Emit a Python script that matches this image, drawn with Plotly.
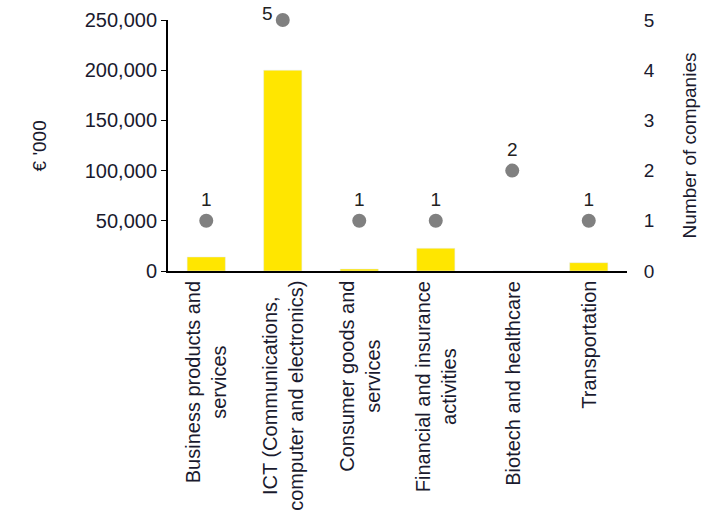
import plotly.graph_objects as go

categories = ["Business products and<br>services",
              "ICT (Communications,<br>computer and electronics)",
              "Consumer goods and<br>services",
              "Financial and insurance<br>activities",
              "Biotech and healthcare",
              "Transportation"]
amount_k_eur = [14000, 200000, 2000, 22600, 0, 8300]
num_companies = [1, 5, 1, 1, 2, 1]
left_ticks = [0, 50000, 100000, 150000, 200000, 250000]
left_ticklabels = ["0", "50,000", "100,000", "150,000", "200,000", "250,000"]

FONT = "Liberation Sans, Arial, sans-serif"
DARK = "#1a1a2e"
FS = 20

top_val = max(num_companies)
point_text = ["" if v == top_val else str(v) for v in num_companies]

fig = go.Figure()
fig.add_trace(go.Bar(x=categories, y=amount_k_eur, marker_color="#FFE600",
                     width=0.5, yaxis="y", showlegend=False))
fig.add_trace(go.Scatter(x=categories, y=num_companies, mode="markers+text",
                         marker=dict(color="#808080", size=14),
                         text=point_text,
                         textposition="top center",
                         textfont=dict(size=FS - 1, color="#222222", family=FONT),
                         yaxis="y2", showlegend=False, cliponaxis=False))

annotations = [
    dict(text="€ '000", xref="paper", yref="paper", x=-0.279, y=0.5,
         xanchor="center", yanchor="middle", textangle=-90, showarrow=False,
         font=dict(size=FS - 1, color=DARK, family=FONT)),
    dict(text="Number of companies", xref="paper", yref="paper", x=1.137, y=0.5,
         xanchor="center", yanchor="middle", textangle=-90, showarrow=False,
         font=dict(size=FS - 1, color=DARK, family=FONT)),
]
for c, v in zip(categories, num_companies):
    if v == top_val:
        annotations.append(dict(text=str(v), x=c, y=v, xref="x", yref="y2",
                                xanchor="center", yanchor="middle", showarrow=False,
                                xshift=-15, yshift=7,
                                font=dict(size=FS - 1, color="#222222", family=FONT)))
# category labels, centred multi-line rotated text
for c in categories:
    annotations.append(dict(text=c, x=c, y=0, xref="x", yref="paper",
                            xanchor="center", yanchor="top", yshift=-8,
                            textangle=-90, align="center", showarrow=False,
                            font=dict(size=FS, color=DARK, family=FONT)))

fig.update_layout(
    width=702, height=518,
    margin=dict(l=168, r=75, t=20, b=247, autoexpand=False),
    plot_bgcolor="white", paper_bgcolor="white",
    font=dict(family=FONT, size=FS, color=DARK),
    xaxis=dict(showline=True, linecolor="#000000", linewidth=2,
               ticks="", automargin=False, showticklabels=False),
    yaxis=dict(range=[0, 250000], tickvals=left_ticks, ticktext=left_ticklabels,
               showgrid=False, zeroline=False, showline=True, linecolor="#000000",
               linewidth=2, ticks="outside", ticklen=5, tickcolor="#000000",
               automargin=False,
               tickfont=dict(size=FS, color=DARK, family=FONT)),
    yaxis2=dict(range=[0, 5], overlaying="y", side="right", showgrid=False,
                zeroline=False, showline=False, tickvals=[0, 1, 2, 3, 4, 5],
                ticks="outside", ticklen=12, tickcolor="rgba(0,0,0,0)",
                automargin=False,
                tickfont=dict(size=FS - 1, color=DARK, family=FONT)),
    bargap=0.5,
    annotations=annotations,
)

fig.write_html("out.html")
